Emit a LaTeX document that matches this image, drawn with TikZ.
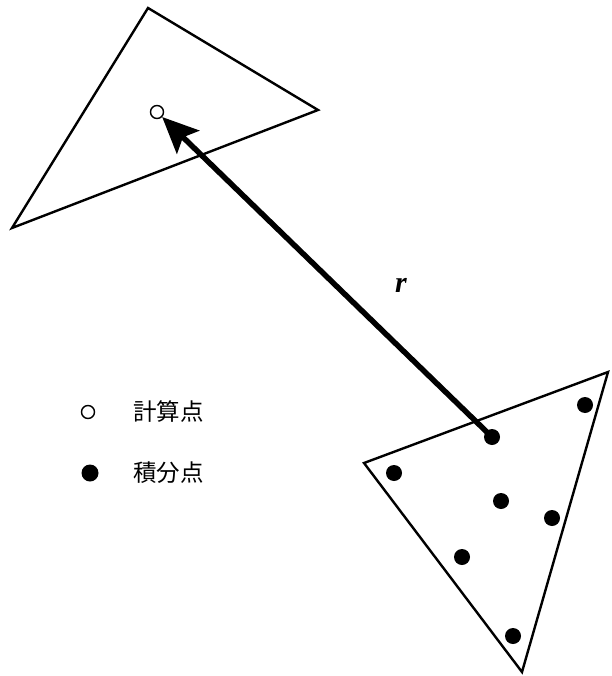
\documentclass[tikz,border=0pt]{standalone}
\usepackage{fontspec}
\newfontfamily\cjk{Noto Sans CJK JP}
\newfontfamily\tms{Liberation Serif}
\usetikzlibrary{arrows.meta}
\begin{document}
\begin{tikzpicture}[x=1pt,y=-1pt,
  tri/.style={draw=black,line width=2.4pt,line join=miter},
  ipt/.style={circle,fill=black,inner sep=0pt,minimum size=16pt},
  cpt/.style={circle,draw=black,line width=1.4pt,fill=white,inner sep=0pt,minimum size=13pt},
  lbl/.style={font=\cjk\fontsize{23.5}{24}\selectfont,anchor=west,inner sep=0pt},
  vec/.style={line width=5.5pt,-{Stealth[length=36pt,width=32pt,inset=7pt]}}]
\useasboundingbox (0,0) rectangle (611,676);
% upper triangle
\draw[tri] (148,8) -- (318,110) -- (12,228) -- cycle;
% lower triangle
\draw[tri] (364,463) -- (608,372) -- (522,672) -- cycle;
% calculation point
\node[cpt] (c0) at (157,112) {};
% integration points
\node[ipt] (p1) at (492,437) {};
\node[ipt] (p2) at (585,405) {};
\node[ipt] (p3) at (394,473) {};
\node[ipt] (p4) at (501,501) {};
\node[ipt] (p5) at (552,518) {};
\node[ipt] (p6) at (462,557) {};
\node[ipt] (p7) at (513,636) {};
% vector r
\draw[vec] (p1.center) -- (c0);
\node[font=\tms\bfseries\itshape\fontsize{30}{30}\selectfont] (r) at (401,285) {r};
% legend
\node[cpt] (lc) at (88,412) {};
\node[lbl] (lct) at (133,412) {計算点};
\node[ipt,minimum size=17pt] (li) at (90,473) {};
\node[lbl] (lit) at (133,473) {積分点};
\end{tikzpicture}
\end{document}
